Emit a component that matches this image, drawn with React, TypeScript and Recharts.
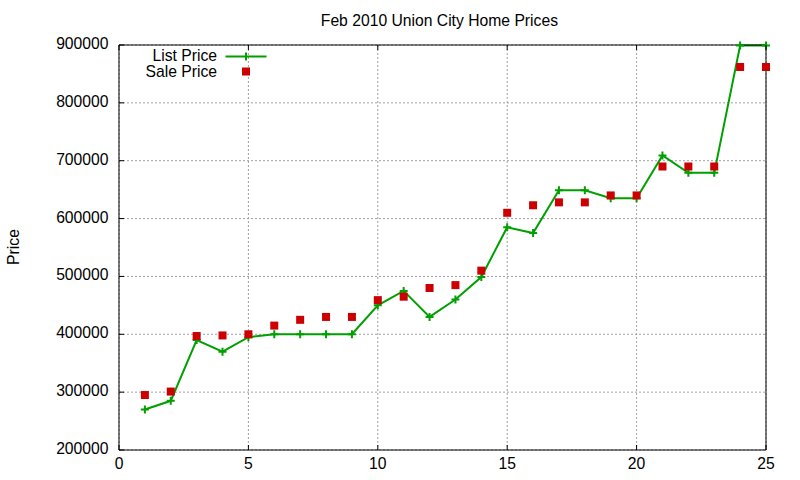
import React from 'react';
import { ComposedChart, Line, XAxis, YAxis, CartesianGrid } from 'recharts';

const days = [1, 2, 3, 4, 5, 6, 7, 8, 9, 10, 11, 12, 13, 14, 15, 16, 17, 18, 19, 20, 21, 22, 23, 24, 25];
const listPrice = [
  270000, 285000, 390000, 370000, 395000, 400000, 400000, 400000, 400000, 450000, 475000, 430000, 460000,
  499000, 585000, 575000, 649000, 649000, 635000, 635000, 709000, 679000, 679000, 899000, 899000,
];
const salePrice = [
  295000, 301000, 397000, 398000, 400000, 415000, 425000, 430000, 430000, 459000, 465000, 480000, 485000,
  510000, 610000, 623000, 628000, 628000, 640000, 640000, 690000, 690000, 690000, 862000, 862000,
];
const xTicks = [0, 5, 10, 15, 20, 25];
const yTicks = [200000, 300000, 400000, 500000, 600000, 700000, 800000, 900000];

const GREEN = '#00a000';
const RED = '#cc0000';
const FONT = '"Liberation Sans", Arial, sans-serif';
const FS = 15.7;

const data = days.map((d, i) => ({ day: d, list: listPrice[i], sale: salePrice[i] }));

const BottomTick = ({ x, y, payload }: any) => (
  <g>
    <line x1={x} y1={y} x2={x} y2={y - 5} stroke="#000" strokeWidth={1} />
    <text x={x} y={y + 18.5} textAnchor="middle" fill="#000" fontSize={FS} fontFamily={FONT}>
      {payload.value}
    </text>
  </g>
);

const TopTick = ({ x, y }: any) => <line x1={x} y1={y} x2={x} y2={y + 5} stroke="#000" strokeWidth={1} />;

const LeftTick = ({ x, y, payload }: any) => (
  <g>
    <line x1={x} y1={y} x2={x + 5} y2={y} stroke="#000" strokeWidth={1} />
    <text x={x - 10.5} y={y + 4} textAnchor="end" fill="#000" fontSize={FS} fontFamily={FONT}>
      {payload.value}
    </text>
  </g>
);

const RightTick = ({ x, y }: any) => <line x1={x} y1={y} x2={x - 5} y2={y} stroke="#000" strokeWidth={1} />;

const PlusDot = ({ cx, cy, index }: any) => (
  <path key={`p-${index}`} d={`M${cx - 4},${cy}H${cx + 4}M${cx},${cy - 4}V${cy + 4}`} stroke={GREEN} strokeWidth={2} fill="none" />
);

const SquareDot = ({ cx, cy, index }: any) => (
  <rect key={`s-${index}`} x={cx - 4} y={cy - 4} width={8} height={8} fill={RED} />
);

export default function App() {
  return (
    <div style={{ position: 'absolute', left: 0, top: 0, width: 800, height: 480, background: '#fff' }}>
      <ComposedChart width={800} height={480} data={data} margin={{ top: 0, right: 0, bottom: 0, left: 0 }}>
        <CartesianGrid stroke="#a0a0a0" strokeDasharray="2 2" />
        <XAxis
          dataKey="day"
          type="number"
          domain={[0, 25]}
          ticks={xTicks}
          interval={0}
          height={30}
          tickSize={0}
          tickMargin={0}
          tickLine={false}
          axisLine={{ stroke: '#000' }}
          tick={<BottomTick />}
        />
        <XAxis
          xAxisId="top"
          orientation="top"
          dataKey="day"
          type="number"
          domain={[0, 25]}
          ticks={xTicks}
          interval={0}
          height={45}
          tickSize={0}
          tickMargin={0}
          tickLine={false}
          axisLine={{ stroke: '#000' }}
          tick={<TopTick />}
        />
        <YAxis
          type="number"
          domain={[200000, 900000]}
          ticks={yTicks}
          interval={0}
          width={119}
          tickSize={0}
          tickMargin={0}
          tickLine={false}
          axisLine={{ stroke: '#000' }}
          tick={<LeftTick />}
        />
        <YAxis
          yAxisId="right"
          orientation="right"
          type="number"
          domain={[200000, 900000]}
          ticks={yTicks}
          interval={0}
          width={34}
          tickSize={0}
          tickMargin={0}
          tickLine={false}
          axisLine={{ stroke: '#000' }}
          tick={<RightTick />}
        />
        <Line
          dataKey="list"
          name="List Price"
          stroke={GREEN}
          strokeWidth={2}
          dot={PlusDot}
          activeDot={false}
          isAnimationActive={false}
        />
        <Line
          dataKey="sale"
          name="Sale Price"
          stroke="none"
          dot={SquareDot}
          activeDot={false}
          isAnimationActive={false}
        />
      </ComposedChart>
      <svg width={800} height={480} style={{ position: 'absolute', left: 0, top: 0, pointerEvents: 'none' }}>
        <text x={439.4} y={26} textAnchor="middle" fill="#000" fontSize={FS} fontFamily={FONT}>
          Feb 2010 Union City Home Prices
        </text>
        <text
          x={0}
          y={0}
          transform="translate(18.5,247) rotate(-90)"
          textAnchor="middle"
          fill="#000"
          fontSize={FS}
          fontFamily={FONT}
        >
          Price
        </text>
        <text x={217} y={61} textAnchor="end" fill="#000" fontSize={FS} fontFamily={FONT}>
          List Price
        </text>
        <line x1={225.5} y1={56.5} x2={266.5} y2={56.5} stroke={GREEN} strokeWidth={2} />
        <path d="M246,52.5V60.5" stroke={GREEN} strokeWidth={2} />
        <text x={217} y={76.5} textAnchor="end" fill="#000" fontSize={FS} fontFamily={FONT}>
          Sale Price
        </text>
        <rect x={242} y={67.5} width={8} height={8} fill={RED} />
      </svg>
    </div>
  );
}
